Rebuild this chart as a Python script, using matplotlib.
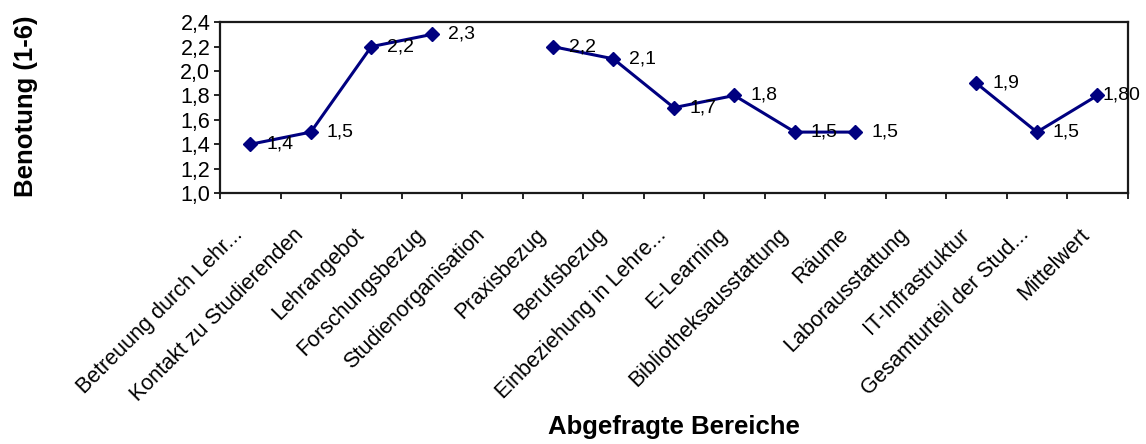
import numpy as np
import matplotlib
matplotlib.use("Agg")
import matplotlib.pyplot as plt
import matplotlib.transforms as mtransforms

plt.rcParams['font.family'] = ['Liberation Sans', 'DejaVu Sans']

# categories and ratings (nan = no value)
categories = ["Betreuung durch Lehr...", "Kontakt zu Studierenden", "Lehrangebot",
              "Forschungsbezug", "Studienorganisation", "Praxisbezug", "Berufsbezug",
              "Einbeziehung in Lehre...", "E-Learning", "Bibliotheksausstattung",
              "Räume", "Laborausstattung", "IT-Infrastruktur",
              "Gesamturteil der Stud...", "Mittelwert"]
values = [1.4, 1.5, 2.2, 2.3, np.nan, 2.2, 2.1, 1.7, 1.8, 1.5, 1.5, np.nan, 1.9, 1.5, 1.8]
value_labels = ["1,4", "1,5", "2,2", "2,3", "", "2,2", "2,1", "1,7", "1,8", "1,5",
                "1,5", "", "1,9", "1,5", "1,80"]
yticks = [1.0, 1.2, 1.4, 1.6, 1.8, 2.0, 2.2, 2.4]

fig = plt.figure(figsize=(11.46, 4.44), dpi=100)
ax = fig.add_axes([0.192, 0.565, 0.792, 0.385])

x = np.arange(len(categories))
ax.plot(x, values, color='#000080', lw=2.2, marker='D', markersize=7.6,
        markerfacecolor='#000080', markeredgecolor='#000080', zorder=3)

for xi, v, lab in zip(x, values, value_labels):
    if lab:
        dx = 4 if xi == x[-1] else 11.5
        ax.annotate(lab, (xi, v), xytext=(dx, 0), textcoords='offset points',
                    ha='left', va='center', fontsize=14, zorder=4)

ax.set_xlim(-0.5, len(categories) - 0.5)
ax.set_ylim(1.0, 2.4)
ax.set_yticks(yticks)
ax.set_yticklabels([f"{t:.1f}".replace('.', ',') for t in yticks], fontsize=15.5)
ax.set_xticks(np.arange(len(categories) + 1) - 0.5)
ax.set_xticklabels([])
ax.tick_params(axis='both', direction='out', length=4, width=1.2, color='black', pad=3)
for s in ax.spines.values():
    s.set_linewidth(1.6)
    s.set_color('#1a1a1a')

# rotated category labels, ending just left of the category center
offset = mtransforms.ScaledTranslation(-18 / 100, -31 / 100, fig.dpi_scale_trans)
trans = ax.get_xaxis_transform() + offset
for xi, c in zip(x, categories):
    ax.text(xi, 0, c, rotation=45, rotation_mode='anchor', ha='right', va='top',
            fontsize=15.5, transform=trans)

fig.text(0.023, 0.76, "Benotung (1-6)", rotation=90, ha='center', va='center',
         fontsize=18.5, fontweight='bold')
fig.text(0.588, 0.038, "Abgefragte Bereiche", ha='center', va='center',
         fontsize=18.5, fontweight='bold')

fig.savefig("out.png", dpi=100)
